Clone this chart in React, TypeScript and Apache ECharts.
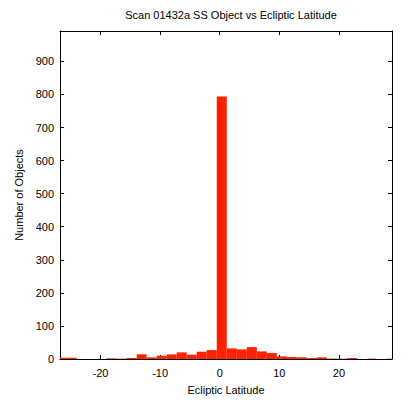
import React, { useEffect, useRef } from "react";
import * as echarts from "echarts";

const title = "Scan 01432a SS Object vs Ecliptic Latitude";
const xName = "Ecliptic Latitude";
const yName = "Number of Objects";

// histogram bins: left edge of first bin and bin width (ecliptic latitude, degrees)
const firstBinLeft = -27.38;
const binWidth = 1.68;
const counts = [
  4, 4, 0, 0, 0, 2, 1, 3, 14, 5, 10, 14, 20, 13, 22, 27,
  794,
  32, 29, 36, 23, 18, 8, 6, 5, 3, 5, 1, 1, 3, 0, 1, 0, 1,
];

const xMin = -26.8;
const xMax = 28.9;
const yMin = 0;
const yMax = 992;
const xTicks = [-20, -10, 0, 10, 20];
const yTicks = [0, 100, 200, 300, 400, 500, 600, 700, 800, 900];

export default function App() {
  const ref = useRef<HTMLDivElement>(null);
  useEffect(() => {
    if (!ref.current) return;
    const chart = echarts.init(ref.current, null, { renderer: "svg" });
    const data = counts.map((c, i) => [
      firstBinLeft + i * binWidth,
      firstBinLeft + (i + 1) * binWidth,
      c,
    ]);
    const font = "Liberation Sans, Arial, Helvetica, sans-serif";
    const lineStyle = { color: "#000", width: 1 };
    const tickStyle = { color: "#000", width: 1 };
    const baseX = {
      type: "value",
      min: xMin,
      max: xMax,
      splitLine: { show: false },
      axisLine: { show: true, onZero: false, lineStyle },
    };
    const baseY = {
      type: "value",
      min: yMin,
      max: yMax,
      splitLine: { show: false },
      axisLine: { show: true, onZero: false, lineStyle },
    };
    chart.setOption({
      animation: false,
      backgroundColor: "#fff",
      title: {
        text: title,
        left: 226,
        textAlign: "center",
        top: 4,
        textStyle: { fontFamily: font, fontSize: 11, fontWeight: "normal", color: "#000" },
      },
      grid: { left: 60, top: 31, right: 24, bottom: 45, containLabel: false },
      xAxis: [
        {
          ...baseX,
          position: "bottom",
          name: xName,
          nameLocation: "middle",
          nameGap: 25,
          nameTextStyle: { fontFamily: font, fontSize: 11, color: "#000" },
          axisTick: { show: true, inside: true, length: 4, customValues: xTicks, lineStyle: tickStyle },
          axisLabel: {
            show: true,
            customValues: xTicks,
            fontFamily: font,
            fontSize: 11,
            color: "#000",
            margin: 8,
          },
        },
        {
          ...baseX,
          position: "top",
          axisTick: { show: true, inside: true, length: 4, customValues: xTicks, lineStyle: tickStyle },
          axisLabel: { show: false },
        },
      ],
      yAxis: [
        {
          ...baseY,
          position: "left",
          name: yName,
          nameLocation: "middle",
          nameGap: 34,
          nameTextStyle: { fontFamily: font, fontSize: 11, color: "#000" },
          axisTick: { show: true, inside: true, length: 4, customValues: yTicks, lineStyle: tickStyle },
          axisLabel: {
            show: true,
            customValues: yTicks,
            fontFamily: font,
            fontSize: 11,
            color: "#000",
            margin: 6,
          },
        },
        {
          ...baseY,
          position: "right",
          axisTick: { show: true, inside: true, length: 4, customValues: yTicks, lineStyle: tickStyle },
          axisLabel: { show: false },
        },
      ],
      series: [
        {
          type: "custom",
          clip: true,
          xAxisIndex: 0,
          yAxisIndex: 0,
          encode: { x: [0, 1], y: 2 },
          data,
          renderItem: (params: any, api: any) => {
            const x0 = api.value(0);
            const x1 = api.value(1);
            const v = api.value(2);
            if (v <= 0) return null;
            const p0 = api.coord([x0, v]);
            const p1 = api.coord([x1, 0]);
            const shape = echarts.graphic.clipRectByRect(
              { x: p0[0], y: p0[1], width: p1[0] - p0[0], height: p1[1] - p0[1] },
              {
                x: params.coordSys.x,
                y: params.coordSys.y,
                width: params.coordSys.width,
                height: params.coordSys.height,
              }
            );
            if (!shape) return null;
            return {
              type: "rect",
              shape,
              style: { fill: "#ff2200", stroke: null },
            };
          },
          z: 1,
        },
      ],
    });
    return () => chart.dispose();
  }, []);
  return <div ref={ref} style={{ width: 416, height: 404, margin: -8 }} />;
}
